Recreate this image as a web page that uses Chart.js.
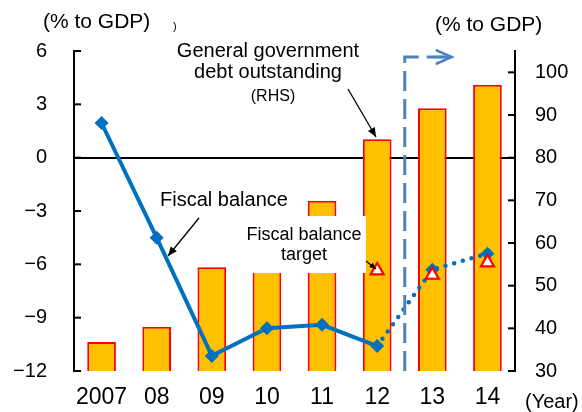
<!DOCTYPE html>
<html>
<head>
<meta charset="utf-8">
<script src="https://cdn.jsdelivr.net/npm/chart.js@4/dist/chart.umd.min.js"></script>
<style>
html,body{margin:0;padding:0;background:#fff;}
#wrap{width:582px;height:412px;position:relative;}
</style>
</head>
<body>
<div id="wrap"><canvas id="c" width="582" height="412"></canvas></div>
<script>
// ---- data ----
const years = ['2007', '08', '09', '10', '11', '12', '13', '14'];
const debtOutstanding = [36.8, 40.4, 54.3, 61.5, 69.9, 84.3, 91.6, 97.1];   // RHS, % to GDP
const fiscalBalance = [1.95, -4.5, -11.15, -9.6, -9.4, -10.6, null, null];  // LHS, actual
const fiscalProjection = [null, null, null, null, null, -10.6, -6.3, -5.4]; // LHS, dotted
const fiscalTarget = [null, null, null, null, null, -6.35, -6.6, -5.9];     // LHS, triangles
const leftTickValues = [-12, -9, -6, -3, 0, 3, 6];
const rightTickValues = [30, 40, 50, 60, 70, 80, 90, 100];

const FONT = "'Liberation Sans', Arial, sans-serif";
const NARROW = "'Liberation Sans Narrow', 'Arial Narrow', 'Liberation Sans', sans-serif";
Chart.defaults.font.family = FONT;
Chart.defaults.font.size = 19;
Chart.defaults.color = '#000';

function fmtLeft(v) { return v < 0 ? '\u2212' + Math.abs(v) : String(v); }

const BLUE = '#0070C0';

function arrow(ctx, x1, y1, x2, y2, head) {
  ctx.beginPath(); ctx.moveTo(x1, y1); ctx.lineTo(x2, y2); ctx.stroke();
  const a = Math.atan2(y2 - y1, x2 - x1);
  ctx.beginPath();
  ctx.moveTo(x2, y2);
  ctx.lineTo(x2 - head * Math.cos(a - 0.4), y2 - head * Math.sin(a - 0.4));
  ctx.lineTo(x2 - head * Math.cos(a + 0.4), y2 - head * Math.sin(a + 0.4));
  ctx.closePath(); ctx.fill();
}

const overlay = {
  id: 'overlay',
  afterDraw(chart) {
    const ctx = chart.ctx;
    const ca = chart.chartArea;
    const yL = chart.scales.y, yR = chart.scales.y1, x = chart.scales.x;
    ctx.save();
    // inward tick marks
    ctx.strokeStyle = '#000'; ctx.lineWidth = 2;
    yL.ticks.forEach(t => { const p = yL.getPixelForValue(t.value); ctx.beginPath(); ctx.moveTo(ca.left, p); ctx.lineTo(ca.left + 7, p); ctx.stroke(); });
    yR.ticks.forEach(t => { const p = yR.getPixelForValue(t.value); ctx.beginPath(); ctx.moveTo(ca.right - 7, p); ctx.lineTo(ca.right, p); ctx.stroke(); });

    // dashed forecast bracket
    const xb = (x.getPixelForValue(5) + x.getPixelForValue(6)) / 2;
    ctx.strokeStyle = '#4F81BD'; ctx.lineWidth = 3; ctx.setLineDash([20, 8]);
    ctx.beginPath(); ctx.moveTo(xb, ca.bottom); ctx.lineTo(xb, 57); ctx.lineTo(xb + 44, 57); ctx.stroke();
    ctx.setLineDash([]);
    ctx.lineWidth = 2.5;
    ctx.beginPath(); ctx.moveTo(xb + 28, 57); ctx.lineTo(xb + 47, 57); ctx.stroke();
    ctx.beginPath(); ctx.moveTo(xb + 31, 50); ctx.lineTo(xb + 47, 57); ctx.lineTo(xb + 31, 64); ctx.stroke();

    // texts
    ctx.fillStyle = '#000'; ctx.textBaseline = 'alphabetic';
    ctx.font = '21px ' + FONT; ctx.textAlign = 'left';
    ctx.fillText('(% to GDP)', 43, 28);
    ctx.fillText('(% to GDP)', 435, 31);
    ctx.font = '20px ' + FONT;
    ctx.fillText('(Year)', 525, 408);
    ctx.font = '11px ' + FONT;
    ctx.fillText(')', 173, 30);

    ctx.font = '20px ' + FONT; ctx.textAlign = 'center';
    ctx.fillText('General government', 268, 57);
    ctx.fillText('debt outstanding', 268, 78);
    ctx.font = '16px ' + FONT;
    ctx.fillText('(RHS)', 273, 101);
    ctx.font = '20px ' + FONT;
    ctx.fillText('Fiscal balance', 224, 206);

    // arrows
    ctx.strokeStyle = '#000'; ctx.fillStyle = '#000'; ctx.lineWidth = 1.3;
    arrow(ctx, 348, 89, 376, 137, 10);
    arrow(ctx, 199, 218, 168, 256, 10);

    // target label box
    ctx.fillStyle = '#fff';
    ctx.fillRect(243, 216, 123, 57);
    ctx.fillStyle = '#000';
    ctx.font = '18px ' + FONT;
    ctx.fillText('Fiscal balance', 304, 240);
    ctx.fillText('target', 304, 260);
    ctx.lineWidth = 1.3;
    arrow(ctx, 366, 261, 376, 269, 7);
    ctx.restore();
  }
};

new Chart(document.getElementById('c'), {
  data: {
    labels: years,
    datasets: [
      {
        type: 'bar', label: 'General government debt outstanding (RHS)', data: debtOutstanding, yAxisID: 'y1',
        backgroundColor: '#FFC000', borderColor: '#FF0000', borderWidth: 2,
        barPercentage: 0.52, categoryPercentage: 1, order: 4
      },
      {
        type: 'line', label: 'Fiscal balance', data: fiscalBalance, yAxisID: 'y',
        borderColor: BLUE, backgroundColor: BLUE, borderWidth: 4,
        pointStyle: 'rectRot', pointRadius: 7, pointBorderWidth: 0, spanGaps: false, order: 2
      },
      {
        type: 'line', label: 'Fiscal balance (projection)', data: fiscalProjection, yAxisID: 'y',
        borderColor: BLUE, backgroundColor: BLUE, borderWidth: 4.5, borderDash: [0, 9], borderCapStyle: 'round',
        pointStyle: 'rectRot', pointRadius: [0, 0, 0, 0, 0, 0, 7, 7], pointBorderWidth: 0, order: 3
      },
      {
        type: 'line', label: 'Fiscal balance target', data: fiscalTarget, yAxisID: 'y', showLine: false,
        pointStyle: 'triangle', pointRadius: 7.5, pointBorderWidth: 2.2,
        pointBackgroundColor: '#fff', pointBorderColor: '#FF0000', order: 1
      }
    ]
  },
  options: {
    responsive: false, animation: false,
    layout: { padding: { top: 51, left: 0, right: 0, bottom: 0 } },
    plugins: { legend: { display: false }, tooltip: { enabled: false } },
    scales: {
      x: {
        offset: true,
        grid: { display: false, drawTicks: false },
        border: { display: false },
        ticks: { padding: 13, maxRotation: 0, autoSkip: false, font: { family: NARROW, size: 23 } },
        afterFit(s) { s.height = 41; }
      },
      y: {
        position: 'left', min: -12, max: 6,
        afterBuildTicks(s) { s.ticks = leftTickValues.map(v => ({ value: v })); },
        ticks: { callback: v => fmtLeft(v), padding: 27, font: { size: 20 } },
        grid: {
          drawTicks: false, drawOnChartArea: true, lineWidth: 2,
          color: c => (c.tick && c.tick.value === 0) ? '#000' : 'rgba(0,0,0,0)'
        },
        border: { display: true, color: '#000', width: 2 },
        afterFit(s) { s.width = 74; }
      },
      y1: {
        position: 'right', min: 30, max: 105,
        afterBuildTicks(s) { s.ticks = rightTickValues.map(v => ({ value: v })); },
        ticks: { padding: 20, font: { size: 20 } },
        grid: { drawTicks: false, drawOnChartArea: false },
        border: { display: true, color: '#000', width: 2 },
        afterFit(s) { s.width = 67; }
      }
    }
  },
  plugins: [overlay]
});
</script>
</body>
</html>
